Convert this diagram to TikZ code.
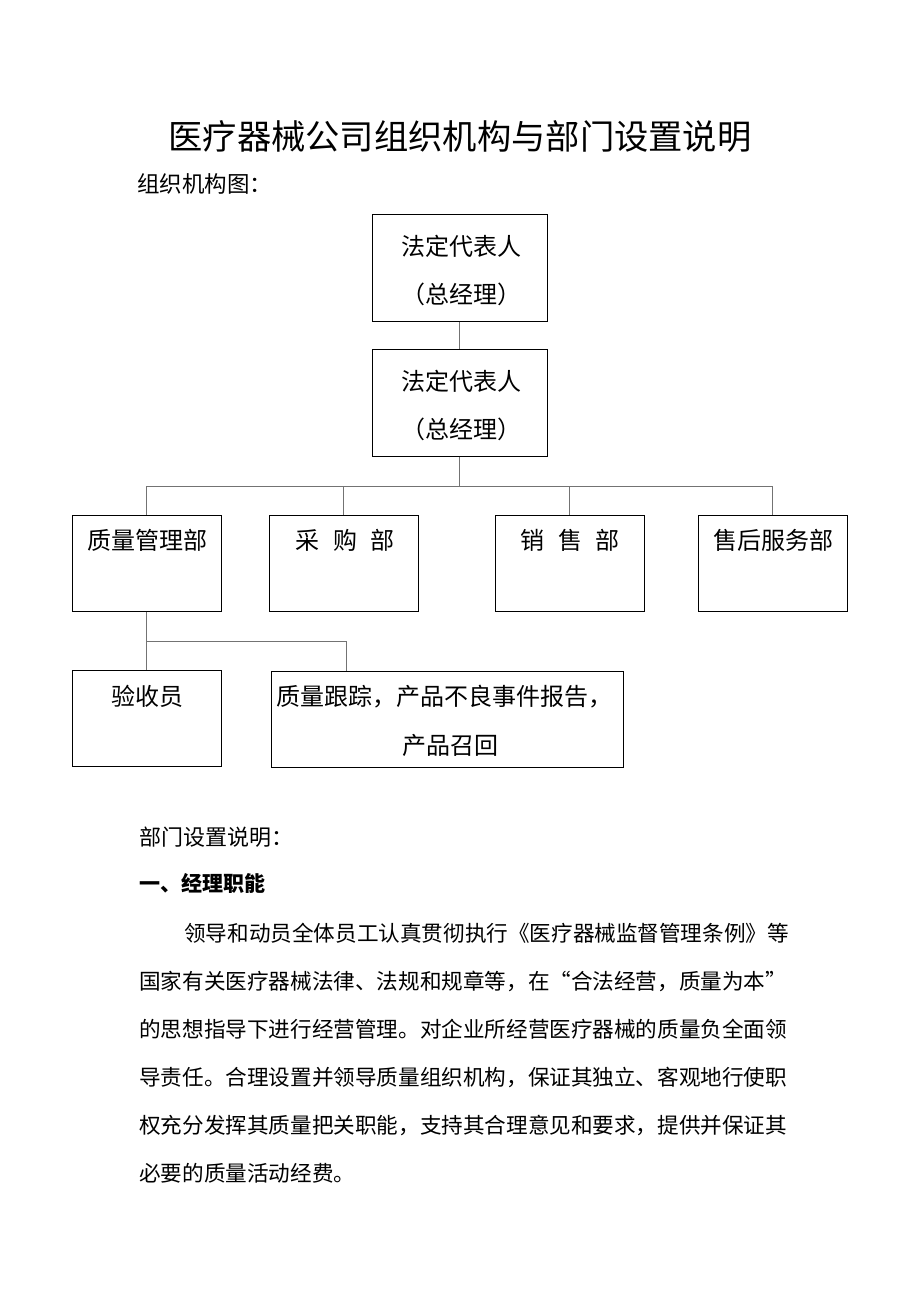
\documentclass[tikz,border=0pt]{standalone}
\usepackage{fontspec}
\setmainfont{Noto Sans CJK SC}
\XeTeXlinebreaklocale "zh"
\XeTeXlinebreakskip=0pt plus 3pt
\definecolor{connc}{gray}{0.45}
\newcommand{\jline}[2]{\hbox to #1{#2}}
\begin{document}
\begin{tikzpicture}[x=1pt,y=-1pt,
  box/.style={draw=black,line width=1pt,inner sep=0pt,rectangle,fill=white},
  lbl/.style={inner sep=0pt,font=\fontsize{24}{28}\selectfont},
  conn/.style={draw=connc,line width=1pt},
  body/.style={inner sep=0pt,anchor=west,font=\fontsize{21.6}{26}\selectfont}]
\fill[white] (0,0) rectangle (920,1302);
\useasboundingbox (0,0) rectangle (920,1302);
% title
\node[inner sep=0pt,font=\fontsize{34.3}{40}\selectfont] (title) at (460,137) {医疗器械公司组织机构与部门设置说明};
\node[body,font=\fontsize{22.5}{26}\selectfont] (orghead) at (137,184) {组织机构图：};
% boxes
\node[box,minimum width=175pt,minimum height=107pt] (gm1) at (459.5,267.5) {};
\node[box,minimum width=175pt,minimum height=107pt] (gm2) at (459.5,402.5) {};
\node[box,minimum width=149pt,minimum height=96pt] (qm) at (146.5,563) {};
\node[box,minimum width=149pt,minimum height=96pt] (cg) at (343.5,563) {};
\node[box,minimum width=149pt,minimum height=96pt] (xs) at (569.5,563) {};
\node[box,minimum width=149pt,minimum height=96pt] (sh) at (772.5,563) {};
\node[box,minimum width=149pt,minimum height=96pt] (ys) at (146.5,718) {};
\node[box,minimum width=352pt,minimum height=96pt] (zl) at (447,719) {};
% labels
\node[lbl] (gm1a) at (461,246) {法定代表人};
\node[lbl] (gm1b) at (461,294) {（总经理）};
\node[lbl] (gm2a) at (461,381) {法定代表人};
\node[lbl] (gm2b) at (461,429) {（总经理）};
\node[lbl] (qml) at (147,540) {质量管理部};
\node[lbl] (cgl) at (345,540) {采\hspace{0.55em}购\hspace{0.55em}部};
\node[lbl] (xsl) at (570,540) {销\hspace{0.55em}售\hspace{0.55em}部};
\node[lbl] (shl) at (773,540) {售后服务部};
\node[lbl] (ysl) at (147,696) {验收员};
\node[lbl] (zla) at (444,697) {质量跟踪，产品不良事件报告，};
\node[lbl] (zlb) at (450,745) {产品召回};
% connectors
\coordinate (bus) at (459.5,486);
\coordinate (kink) at (346,641);
\draw[conn] (gm1.south) -- (gm2.north);
\draw[conn] (gm2.south) -- (bus);
\draw[conn] (qm.north) -- (qm.north |- bus) -- (sh.north |- bus) -- (sh.north);
\draw[conn] (cg.north |- bus) -- (cg.north);
\draw[conn] (xs.north |- bus) -- (xs.north);
\draw[conn] (qm.south) -- (ys.north);
\draw[conn] (qm.south |- kink) -- (kink) -- (kink |- zl.north);
% text section
\node[body,font=\fontsize{22}{26}\selectfont] (dhead) at (139,837) {部门设置说明：};
\node[body,font=\fontsize{21}{26}\selectfont\bfseries] (sec1) at (139,883) {一、经理职能};
\node[body] (p1) at (184,933) {\jline{606pt}{领导和动员全体员工认真贯彻执行《医疗器械监督管理条例》等}};
\node[body] (p2) at (139,981) {\jline{651pt}{国家有关医疗器械法律、法规和规章等，在“合法经营，质量为本”}};
\node[body] (p3) at (139,1029) {\jline{645pt}{的思想指导下进行经营管理。对企业所经营医疗器械的质量负全面领}};
\node[body] (p4) at (139,1077) {\jline{645pt}{导责任。合理设置并领导质量组织机构，保证其独立、客观地行使职}};
\node[body] (p5) at (139,1125) {\jline{645pt}{权充分发挥其质量把关职能，支持其合理意见和要求，提供并保证其}};
\node[body] (p6) at (139,1173) {必要的质量活动经费。};
\end{tikzpicture}
\end{document}
